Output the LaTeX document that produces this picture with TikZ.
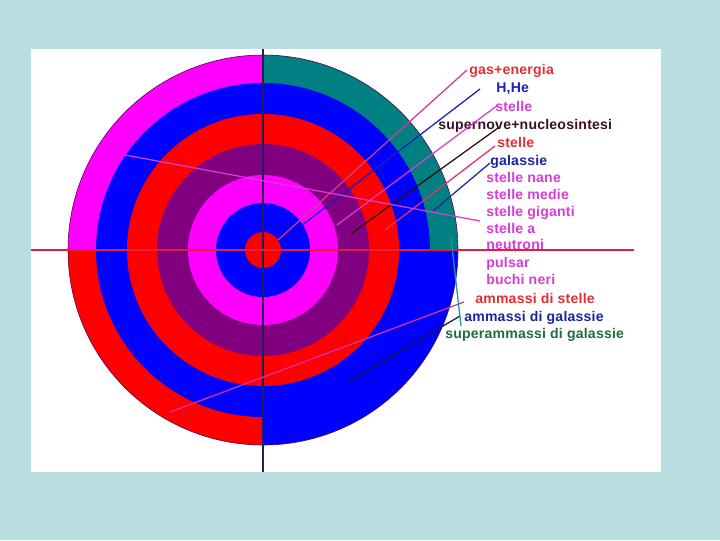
\documentclass[tikz,border=0pt]{standalone}
\usepackage{fontspec}
\setmainfont[LetterSpace=1.5]{Liberation Sans}
\definecolor{bgcyan}{RGB}{186,222,226}
\definecolor{rmag}{RGB}{255,0,255}
\definecolor{rblue}{RGB}{0,0,255}
\definecolor{rred}{RGB}{255,0,0}
\definecolor{rpurple}{RGB}{128,0,128}
\definecolor{rteal}{RGB}{0,128,128}
\definecolor{axisnavy}{RGB}{35,30,90}
\definecolor{axisred}{RGB}{225,30,60}
\definecolor{txtred}{RGB}{230,45,50}
\definecolor{txtblue}{RGB}{30,30,190}
\definecolor{txtmag}{RGB}{215,60,215}
\definecolor{txtdark}{RGB}{60,15,40}
\definecolor{txtnavy}{RGB}{30,35,160}
\definecolor{txtgreen}{RGB}{30,110,60}
\definecolor{lpink}{RGB}{210,60,140}
\definecolor{lred}{RGB}{225,50,105}
\definecolor{lteal}{RGB}{30,150,160}
\definecolor{ldark}{RGB}{50,10,10}

\tikzset{
  lab/.style={anchor=base west, inner sep=0pt, font=\bfseries\fontsize{10}{12}\selectfont},
  conn/.style={line width=0.9pt}
}

\begin{document}
\begin{tikzpicture}[x=0.025cm, y=-0.025cm]
    \fill[bgcyan] (0,0) rectangle (720,540);
    \fill[white] (31,49) rectangle (661,472);
    \useasboundingbox (0,0) rectangle (720,540);
    \coordinate (c) at (263,250);
    % top right
    \begin{scope}
      \clip (263,250) rectangle (470,40);
      \fill[rteal] (c) circle[radius=195];
      \fill[rblue] (c) circle[radius=167];
      \fill[rred] (c) circle[radius=136];
      \fill[rpurple] (c) circle[radius=106];
      \fill[rmag] (c) circle[radius=75];
      \fill[rblue] (c) circle[radius=47];
    \end{scope}
    % top left
    \begin{scope}
      \clip (263,250) rectangle (60,40);
      \fill[rmag] (c) circle[radius=195];
      \fill[rblue] (c) circle[radius=167];
      \fill[rred] (c) circle[radius=136];
      \fill[rpurple] (c) circle[radius=106];
      \fill[rmag] (c) circle[radius=75];
      \fill[rblue] (c) circle[radius=47];
    \end{scope}
    % bottom left
    \begin{scope}
      \clip (263,250) rectangle (60,460);
      \fill[rred] (c) circle[radius=195];
      \fill[rblue] (c) circle[radius=167];
      \fill[rred] (c) circle[radius=136];
      \fill[rpurple] (c) circle[radius=106];
      \fill[rmag] (c) circle[radius=75];
      \fill[rblue] (c) circle[radius=47];
    \end{scope}
    % bottom right
    \begin{scope}
      \clip (263,250) rectangle (470,460);
      \fill[rblue] (c) circle[radius=195];
      \fill[rred] (c) circle[radius=136];
      \fill[rpurple] (c) circle[radius=106];
      \fill[rmag] (c) circle[radius=75];
      \fill[rblue] (c) circle[radius=47];
    \end{scope}
    \fill[rred] (c) circle[radius=18];
    \draw[rpurple!60!black, line width=0.4pt] (c) circle[radius=195];
    % axes
    \coordinate (vtop) at (263,49);
    \coordinate (vbot) at (263,472);
    \coordinate (hleft) at (31,250);
    \coordinate (hright) at (634,250);
    \draw[axisnavy, line width=0.8pt] (vtop) -- (vbot);
    \draw[axisred, line width=0.8pt] (hleft) -- (hright);
    % labels
    \node[lab, text=txtred] (gas) at (469,74) {gas+energia};
    \node[lab, text=txtblue] (hhe) at (496,92) {H,He};
    \node[lab, text=txtmag] (stelleA) at (495,111) {stelle};
    \node[lab, text=txtdark] (supernove) at (438,129) {supernove+nucleosintesi};
    \node[lab, text=txtred] (stelleB) at (497,147) {stelle};
    \node[lab, text=txtnavy] (galassie) at (490,165) {galassie};
    \node[lab, text=txtmag] (nane) at (486,182) {stelle nane};
    \node[lab, text=txtmag] (medie) at (486,199) {stelle medie};
    \node[lab, text=txtmag] (giganti) at (486,216) {stelle giganti};
    \node[lab, text=txtmag] (stelleaa) at (486,233) {stelle a};
    \node[lab, text=txtmag] (neutroni) at (486,249) {neutroni};
    \node[lab, text=txtmag] (pulsar) at (486,267) {pulsar};
    \node[lab, text=txtmag] (buchi) at (486,284) {buchi neri};
    \node[lab, text=txtred] (amstelle) at (475,303) {ammassi di stelle};
    \node[lab, text=txtnavy] (amgal) at (464,321) {ammassi di galassie};
    \node[lab, text=txtgreen] (supergal) at (445,338) {superammassi di galassie};
    % connector ends
    \coordinate (gas-s) at (467,70);      \coordinate (gas-e) at (278,240);
    \coordinate (hhe-s) at (480,89);      \coordinate (hhe-e) at (301,226);
    \coordinate (stelleA-s) at (498,105); \coordinate (stelleA-e) at (337,225);
    \coordinate (supernove-s) at (498,128); \coordinate (supernove-e) at (352,233);
    \coordinate (stelleB-s) at (495,146); \coordinate (stelleB-e) at (385,230);
    \coordinate (galassie-s) at (490,163); \coordinate (galassie-e) at (433,211);
    \coordinate (giganti-s) at (480,221); \coordinate (giganti-e) at (125,155);
    \coordinate (amstelle-s) at (464,302); \coordinate (amstelle-e) at (170,412);
    \coordinate (amgal-s) at (460,316);   \coordinate (amgal-e) at (348,382);
    \coordinate (supergal-s) at (461,326); \coordinate (supergal-e) at (451,238);
    \draw[conn, lpink] (gas-s) -- (gas-e);
    \draw[conn, txtblue] (hhe-s) -- (hhe-e);
    \draw[conn, txtmag] (stelleA-s) -- (stelleA-e);
    \draw[conn, ldark] (supernove-s) -- (supernove-e);
    \draw[conn, lred] (stelleB-s) -- (stelleB-e);
    \draw[conn, txtnavy] (galassie-s) -- (galassie-e);
    \draw[conn, txtmag] (giganti-s) -- (giganti-e);
    \draw[conn, lpink!80!rmag] (amstelle-s) -- (amstelle-e);
    \draw[conn, axisnavy!80!black] (amgal-s) -- (amgal-e);
    \draw[conn, lteal] (supergal-s) -- (supergal-e);
\end{tikzpicture}
\end{document}
